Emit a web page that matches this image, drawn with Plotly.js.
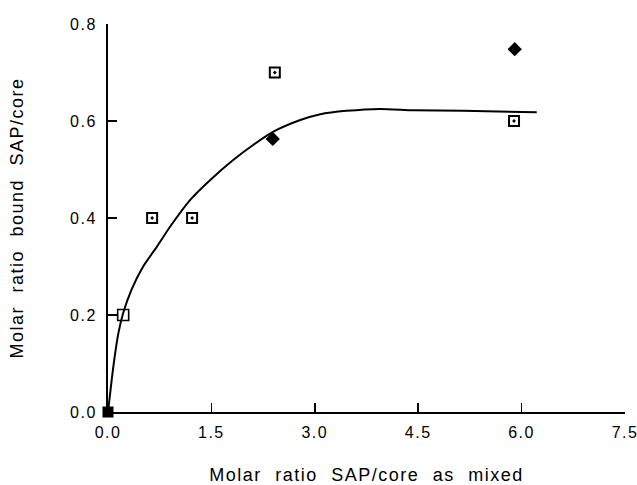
<!DOCTYPE html>
<html>
<head>
<meta charset="utf-8">
<script src="https://cdn.plot.ly/plotly-3.0.1.min.js"></script>
<style>
html,body{margin:0;padding:0;background:#fff;}
#chart{width:637px;height:485px;}
</style>
</head>
<body>
<div id="chart"></div>
<script>
// Data
const openSquareX = [0.22];
const openSquareY = [0.20];
const dotSquareX = [0.64, 1.22, 2.42, 5.89];
const dotSquareY = [0.40, 0.40, 0.70, 0.60];
const diamondX = [2.39, 5.90];
const diamondY = [0.563, 0.748];
const filledSquareX = [0.0];
const filledSquareY = [0.0];
const fitX = [0.0, 0.077, 0.15, 0.22, 0.34, 0.51, 0.71, 0.90, 1.19, 1.48, 1.82, 2.11, 2.40, 2.79, 3.08, 3.46, 3.95, 4.43, 5.15, 6.22];
const fitY = [0.0, 0.093, 0.162, 0.204, 0.252, 0.300, 0.341, 0.382, 0.437, 0.478, 0.520, 0.551, 0.578, 0.602, 0.614, 0.621, 0.625, 0.622, 0.621, 0.618];
const xTicks = [0, 1.5, 3.0, 4.5, 6.0, 7.5];
const xTickLabels = ["0.0", "1.5", "3.0", "4.5", "6.0", "7.5"];
const yTicks = [0, 0.2, 0.4, 0.6, 0.8];
const yTickLabels = ["0.0", "0.2", "0.4", "0.6", "0.8"];

const fontFam = 'Liberation Sans, Arial, Helvetica, sans-serif';

const traces = [
  {x: fitX, y: fitY, mode: 'lines', line: {color: '#000', width: 2, shape: 'spline', smoothing: 0.6}, hoverinfo: 'skip'},
  {x: openSquareX, y: openSquareY, mode: 'markers', cliponaxis: false,
   marker: {symbol: 'square-open', size: 11, color: '#000', line: {width: 1.6, color: '#000'}}},
  {x: dotSquareX, y: dotSquareY, mode: 'markers', cliponaxis: false,
   marker: {symbol: 'square-open-dot', size: 10, color: '#000', line: {width: 2, color: '#000'}}},
  {x: diamondX, y: diamondY, mode: 'markers', cliponaxis: false,
   marker: {symbol: 'diamond', size: 11, color: '#000', line: {width: 0}}},
  {x: filledSquareX, y: filledSquareY, mode: 'markers', cliponaxis: false,
   marker: {symbol: 'square', size: 11, color: '#000', line: {width: 0}}}
];

const layout = {
  width: 637, height: 485,
  margin: {l: 108, r: 12, t: 24, b: 73},
  paper_bgcolor: '#fff', plot_bgcolor: '#fff',
  showlegend: false,
  font: {family: fontFam, color: '#000'},
  xaxis: {
    range: [0, 7.5], tickvals: xTicks, ticktext: xTickLabels,
    showgrid: false, zeroline: false, showline: true, linecolor: '#000', linewidth: 2,
    ticks: 'inside', ticklen: 9, tickwidth: 1.6, tickcolor: '#000',
    ticklabelstandoff: 5,
    tickfont: {size: 16, family: fontFam, color: '#000'},
    title: {text: 'Molar ratio SAP/core as mixed', font: {size: 18, family: fontFam, color: '#000'}, standoff: 28}
  },
  yaxis: {
    range: [0, 0.8], tickvals: yTicks, ticktext: yTickLabels,
    showgrid: false, zeroline: false, showline: true, linecolor: '#000', linewidth: 2,
    ticks: 'inside', ticklen: 9, tickwidth: 1.6, tickcolor: '#000',
    ticklabelstandoff: 6,
    tickfont: {size: 16, family: fontFam, color: '#000'},
    title: {text: 'Molar ratio bound SAP/core', font: {size: 18, family: fontFam, color: '#000'}, standoff: 46}
  }
};

Plotly.newPlot('chart', traces, layout, {staticPlot: true}).then(function () {
  document.querySelectorAll('.xtick text, .ytick text').forEach(function (t) {
    t.style.letterSpacing = '1.5px';
  });
  document.querySelectorAll('.xtitle, .ytitle').forEach(function (t) {
    t.style.letterSpacing = '1.5px';
    t.style.wordSpacing = '7px';
  });
});
</script>
</body>
</html>
